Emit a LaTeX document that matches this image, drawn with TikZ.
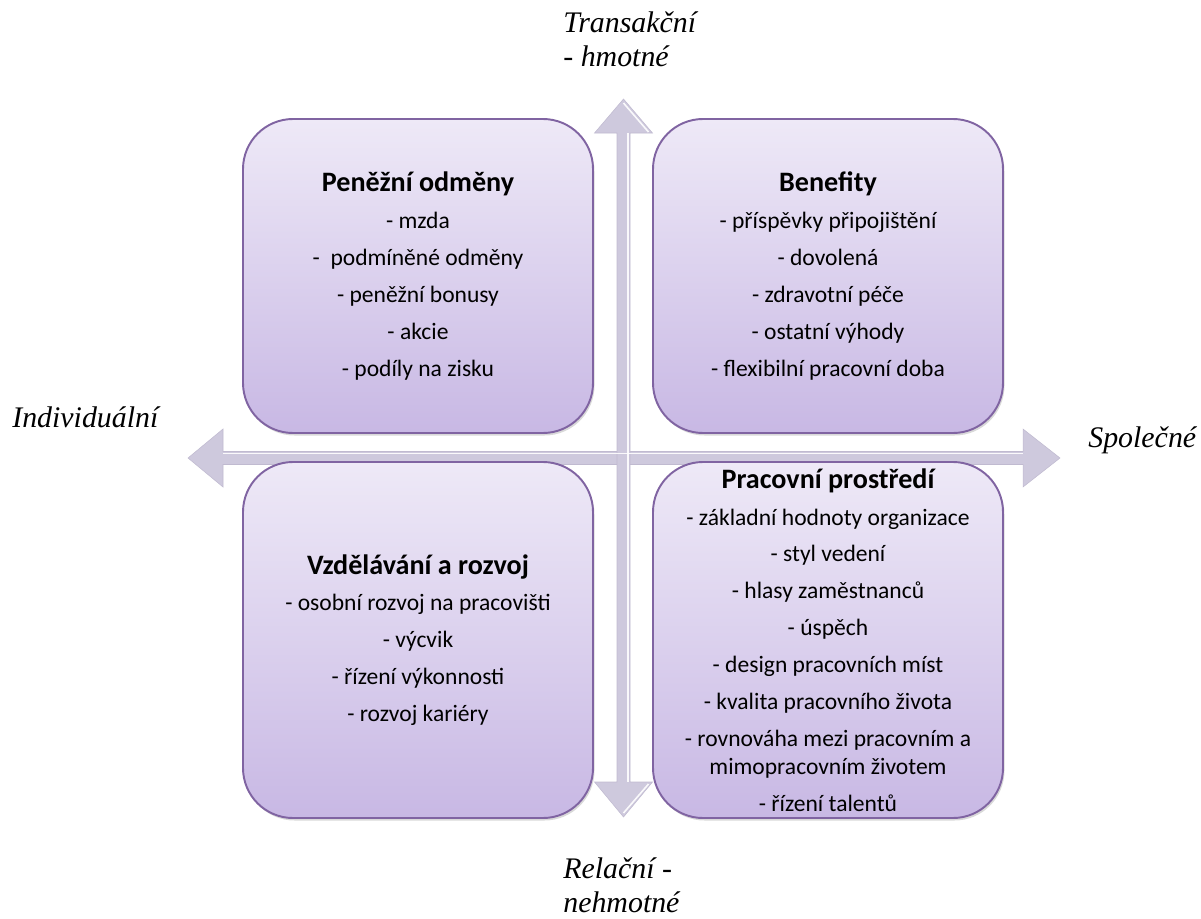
\documentclass[tikz,border=0pt]{standalone}
\usepackage{fontspec}
\setmainfont{Liberation Serif}
\newfontfamily\boxfont{Carlito}
\usetikzlibrary{shadows}
\definecolor{boxedge}{RGB}{128,100,162}
\definecolor{boxtop}{RGB}{238,233,247}
\definecolor{boxbottom}{RGB}{200,184,228}
\definecolor{axisfill}{RGB}{206,201,221}
\definecolor{axisdark}{RGB}{192,186,208}
\newcommand{\qtitle}[1]{{\bfseries\fontsize{16}{21}\selectfont #1}}
\tikzset{
  quadrant/.style={rectangle,rounded corners=1cm,draw=boxedge,line width=1.1pt,
    top color=boxtop,bottom color=boxbottom,minimum width=7cm,align=center,
    font=\boxfont\fontsize{13.4}{21}\selectfont,
    drop shadow={shadow xshift=0.03cm,shadow yshift=-0.05cm,opacity=0.3}},
  axislabel/.style={font=\itshape\fontsize{17}{19.4}\selectfont,inner sep=0pt},
  axisbody/.style={fill=axisfill,draw=axisdark,line width=0.3pt},
  axisshine/.style={white,line width=0.9pt,opacity=0.9}
}

\begin{document}
\begin{tikzpicture}
  \useasboundingbox (0,0) rectangle (24.02,-18.36);
  % axes
  \filldraw[axisbody] (3.76,-9.16) -- (4.46,-8.58) -- (4.46,-9.03) -- (20.46,-9.03)
    -- (20.46,-8.58) -- (21.2,-9.16) -- (20.46,-9.74) -- (20.46,-9.29)
    -- (4.46,-9.29) -- (4.46,-9.74) -- cycle;
  \filldraw[axisbody] (12.47,-1.98) -- (13.05,-2.66) -- (12.6,-2.66) -- (12.6,-15.64)
    -- (13.05,-15.64) -- (12.47,-16.34) -- (11.89,-15.64) -- (12.34,-15.64)
    -- (12.34,-2.66) -- (11.89,-2.66) -- cycle;
  \draw[axisshine] (4.46,-9.07) -- (20.46,-9.07);
  \draw[axisshine] (12.56,-2.66) -- (12.56,-15.64);
  \draw[axisshine] (12.47,-2.06) -- (12.97,-2.64);
  \draw[axisshine] (12.47,-16.26) -- (12.97,-15.68);

  % quadrants
  \node[quadrant,minimum height=6.28cm] (money) at (8.36,-5.52)
    {\qtitle{Peněžní odměny}\\- mzda\\-\ \ podmíněné odměny\\- peněžní bonusy\\- akcie\\- podíly na zisku};
  \node[quadrant,minimum height=6.28cm] (benefits) at (16.56,-5.52)
    {\qtitle{Benefity}\\- příspěvky připojištění\\- dovolená\\- zdravotní péče\\- ostatní výhody\\- flexibilní pracovní doba};
  \node[quadrant,minimum height=7.12cm] (learning) at (8.36,-12.8)
    {\qtitle{Vzdělávání a rozvoj}\\- osobní rozvoj na pracovišti\\- výcvik\\- řízení výkonnosti\\- rozvoj kariéry};
  \node[quadrant,minimum height=7.12cm] (workenv) at (16.56,-12.8)
    {\qtitle{Pracovní prostředí}\\- základní hodnoty organizace\\- styl vedení\\- hlasy zaměstnanců\\- úspěch\\- design pracovních míst\\- kvalita pracovního života\\- rovnováha mezi pracovním a\\[-5pt]mimopracovním životem\\- řízení talentů};

  % axis labels
  \node[axislabel,anchor=base west] (transA) at (11.26,-0.66) {Transakční};
  \node[axislabel,anchor=base west] (transB) at (11.26,-1.34) {- hmotné};
  \node[axislabel,anchor=base west] (relA) at (11.26,-17.56) {Relační -};
  \node[axislabel,anchor=base west] (relB) at (11.26,-18.24) {nehmotné};
  \node[axislabel,anchor=base west] (indiv) at (0.24,-8.54) {Individuální};
  \node[axislabel,anchor=base west] (social) at (21.76,-8.94) {Společné};
\end{tikzpicture}
\end{document}
